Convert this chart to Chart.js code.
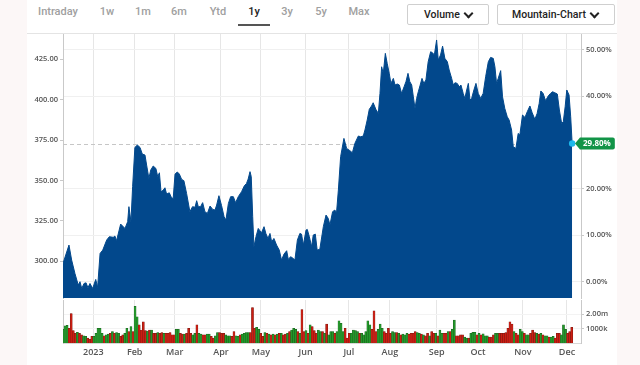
<!DOCTYPE html>
<html>
<head>
<meta charset="utf-8">
<script src="https://cdn.jsdelivr.net/npm/chart.js@4.4.1/dist/chart.umd.min.js"></script>
<style>
html,body{margin:0;padding:0;}
body{width:640px;height:365px;background:#fcf7f7;position:relative;overflow:hidden;font-family:'Open Sans',sans-serif;}
#panel{position:absolute;left:27px;top:0;width:590px;height:365px;background:#fff;}
#topline{position:absolute;left:27px;top:33px;width:590px;height:1px;background:#e4e4e4;}
.tab{position:absolute;top:4px;font-family:Roboto,sans-serif;font-size:11px;font-weight:500;color:#a0a0a0;transform:translateX(-50%);white-space:nowrap;line-height:16px;}
.tab.on{color:#222;}
#uline{position:absolute;left:238px;top:24px;width:32px;height:2px;background:#555;}
.btn{position:absolute;top:4px;height:21px;box-sizing:border-box;border:1px solid #cfcfcf;border-radius:2px;background:#fff;font-family:Roboto,sans-serif;font-size:10.5px;font-weight:500;color:#222;line-height:19px;white-space:nowrap;}
.btn span.t{position:absolute;top:0;}
.chev{position:absolute;top:5px;width:5px;height:5px;border-right:2px solid #222;border-bottom:2px solid #222;transform:rotate(45deg);}
canvas{position:absolute;left:0;top:0;}
</style>
</head>
<body>
<div id="panel"></div>
<div id="topline"></div>
<div class="tab" style="left:58px">Intraday</div>
<div class="tab" style="left:107px">1w</div>
<div class="tab" style="left:143px">1m</div>
<div class="tab" style="left:179px">6m</div>
<div class="tab" style="left:218px">Ytd</div>
<div class="tab on" style="left:254px">1y</div>
<div class="tab" style="left:287px">3y</div>
<div class="tab" style="left:321px">5y</div>
<div class="tab" style="left:359px">Max</div>
<div id="uline"></div>
<div class="btn" style="left:407px;width:82px;"><span class="t" style="left:16px">Volume</span><span class="chev" style="left:57px"></span></div>
<div class="btn" style="left:497px;width:118px;"><span class="t" style="left:14px">Mountain-Chart</span><span class="chev" style="left:93px"></span></div>
<canvas id="price" width="640" height="365"></canvas>
<canvas id="vol" width="640" height="365"></canvas>
<script>
// ---- data ----
const priceX = [0,2.9,4.2,5.8,7.4,8.25,9.1,10.2,11.2,12.1,13.1,14.4,15.9,16.8,18.0,19.3,21.2,22.5,24.4,25.2,26.0,28.0,30.1,31.4,32.0,33.0,33.8,34.9,36.1,37.4,38.5,39.8,40.6,41.7,42.6,43.8,45.1,46.0,46.8,47.6,48.7,49.5,50.3,51.6,52.7,53.5,54.4,55.5,56.5,57.6,58.7,60.0,61.6,62.9,64.1,64.9,65.7,66.8,67.8,68.9,70.1,71.4,72.7,73.8,74.6,75.7,77.0,78.2,79.1,80.3,81.4,82.7,83.8,85.1,86.7,88.0,89.1,89.9,90.8,91.4,92.1,92.7,93.7,94.8,95.6,96.4,97.6,98.5,99.5,100.5,101.3,102.4,103.7,105.0,106.1,107.3,108.6,109.4,110.5,111.8,112.6,113.8,115.0,115.8,116.7,118.0,118.6,119.6,120.7,121.5,122.5,123.4,124.7,126.4,127.7,128.8,129.6,130.9,132.0,132.8,133.7,134.8,136.4,137.7,139.3,140.5,141.7,143.4,144.5,145.8,146.6,147.7,148.7,149.8,150.6,151.9,153.1,153.9,154.7,155.5,156.5,157.4,158.4,159.2,160.4,161.2,162.3,163.3,164.4,165.6,166.5,167.5,168.4,169.3,170.1,170.9,171.7,172.5,173.3,174.3,175.2,176.2,177.3,178.5,179.4,180.3,181.4,182.2,183.3,184.3,185.4,186.6,187.5,188.7,189.5,190.3,191.4,192.4,193.2,194.3,195.1,196.0,196.8,197.6,198.4,199.5,200.5,201.6,202.8,204.0,205.2,206.5,207.6,208.9,209.7,210.5,211.3,212.5,213.4,214.5,215.7,216.6,217.8,218.6,219.9,221.0,221.8,223.1,224.3,225.4,226.7,227.8,229.1,230.2,231.2,232.0,233.1,234.3,235.6,236.7,237.7,238.8,240.0,241.0,242.1,242.9,243.8,244.6,245.7,246.5,247.2];
const priceY = [298.5,309.9,300.6,292.3,285.1,287.2,283.0,286.1,286.5,283.5,286.1,283.0,288.6,283.6,304.7,306.8,313.0,315.1,314.7,315.5,312.6,322.9,320.2,324.4,333.7,324.4,346.1,370.4,371.9,370.4,366.3,365.7,359.5,351.2,356.4,358.9,357.4,352.3,354.7,342.9,344.0,345.4,341.5,342.3,339.2,338.8,353.9,355.2,353.9,350.6,349.8,341.9,330.6,333.7,333.3,337.4,333.7,333.7,336.2,330.6,329.5,334.1,332.0,331.6,334.7,340.5,334.3,327.5,325.4,335.7,339.9,339.9,336.2,339.9,343.0,346.5,348.1,350.8,355.4,352.3,327.5,308.9,315.1,320.2,318.8,317.6,321.3,317.1,314.0,317.1,311.9,314.0,309.9,306.8,300.6,304.3,306.4,301.0,302.7,301.6,300.6,313.0,317.1,316.7,309.9,319.2,319.6,315.1,308.9,316.1,316.7,306.8,307.3,321.3,328.5,326.4,322.3,330.6,331.6,329.9,344.0,364.7,376.0,369.8,368.4,367.1,372.9,377.5,377.0,377.5,381.2,387.4,394.0,396.1,398.1,394.0,391.5,403.9,420.4,416.3,428.7,422.5,416.3,410.1,413.2,409.1,409.7,409.1,403.9,408.0,411.1,416.3,411.1,409.1,401.8,394.6,400.8,404.9,408.5,413.2,410.1,412.2,423.5,429.7,429.1,427.7,437.0,424.6,427.7,433.2,425.6,423.5,418.4,413.2,409.1,410.5,410.1,408.0,409.1,403.9,400.8,406.0,410.1,399.8,400.8,406.0,410.1,403.9,400.8,403.9,414.2,423.5,426.2,425.6,420.4,410.1,413.2,418.0,401.8,394.6,389.4,387.4,381.2,370.9,369.8,379.1,378.1,390.5,389.0,392.5,396.1,391.9,387.8,391.5,397.7,405.4,403.9,399.4,402.3,403.9,404.9,404.3,403.5,393.6,385.3,386.3,395.6,406.0,402.9,389.4,372.8];
const basePrice = 287.21;            // price at 0.00%
const volumes = [
 0.96,1.19,1.23,1.03,2.05,0.87,0.68,0.75,0.68,0.57,0.50,0.46,0.34,0.27,0.46,0.46,0.68,1.03,1.03,0.68,
 0.50,0.57,0.62,0.68,0.80,0.68,0.73,0.68,0.46,0.57,0.68,1.03,0.80,1.14,0.80,2.56,1.83,1.26,0.91,1.48,
 0.87,0.84,0.91,0.91,0.68,0.68,0.73,0.68,0.73,0.68,0.68,0.68,0.73,0.57,0.57,0.96,0.96,0.68,0.62,0.62,
 0.68,1.03,
 0.68,0.57,0.68,1.26,0.68,0.62,0.57,0.57,0.62,0.62,0.46,0.34,0.50,0.73,0.73,0.68,0.68,0.57,0.50,0.50,
 0.46,0.80,0.50,0.46,0.57,0.62,0.68,0.73,0.73,0.73,2.47,1.03,1.10,0.96,0.68,0.46,0.73,0.68,0.62,0.57,
 0.62,0.57,0.62,0.68,0.68,0.57,0.62,0.68,0.80,0.91,1.03,0.96,0.80,0.68,2.33,0.80,0.87,0.68,1.26,1.14,
 0.87,0.68,
 0.91,0.80,0.80,0.68,1.32,0.57,0.80,0.80,0.68,0.80,1.55,1.37,0.80,1.03,0.34,0.68,0.68,0.91,0.87,0.80,
 0.68,0.68,0.57,0.80,1.55,1.26,0.96,2.24,0.80,0.96,1.32,1.03,0.80,0.68,1.03,0.68,0.80,0.73,0.73,0.68,
 0.57,0.62,0.57,0.68,0.62,0.68,0.68,0.80,0.73,0.68,0.62,0.57,0.50,0.68,0.50,0.80,0.68,0.68,0.50,0.91,
 0.68,0.68,
 0.68,0.80,0.80,0.96,1.60,0.50,0.50,0.57,0.57,0.41,0.34,0.34,0.68,0.75,0.75,0.57,0.68,0.57,0.64,0.50,
 0.50,0.41,0.41,0.57,0.68,0.68,0.68,0.68,0.68,0.73,1.03,1.48,1.32,0.80,0.68,0.57,0.96,0.80,0.68,0.57,
 0.57,0.68,0.91,0.73,0.68,0.62,0.68,0.57,0.50,0.50,0.41,0.41,0.46,0.34,0.68,0.68,0.57,1.26,0.96,0.68,
 0.80,1.10];
const volumeDir =
 "GGGRRRRGRRGGRRRGGGGGRGGRGRGGRRGGRGRGGRRRRGRGRRGRRGRRRRRGGRRGRR" +
 "RGGRGGRRGGRRGGRRRGGGRRGGRGGGGRRRGGRRGRGRGRGRGRRGRGGGRGRRGRGRRR" +
 "GGRGRGGGRGGGGRRRGGGGRGGGGGRRRGGGRRRRGGRGRGGGRRRRGGRGRRGRRGRGGR" +
 "RGRGGRRRRGGRGGGRGRGGGRRRGGRRRRRRRGRRGGRGGRRRGRGRGGRGGRRRGGGRRR";
const monthTicks  = [14.7,34.8,54.2,76.7,96.1,117.8,138.8,158.7,181.4,201.5,223.3,244.7];
const monthLabels = ['2023','Feb','Mar','Apr','May','Jun','Jul','Aug','Sep','Oct','Nov','Dec'];
const priceMin = 277.1, priceMax = 440.7;
const priceTicks = [300,325,350,375,400,425];
const pctTicks = [0,10,20,40,50];
const volTicks = [1,2];
const volTickLabels = ['1000k','2.00m'];
const xMin = 0, xMax = 251.5;

// ---- rendering ----
Chart.defaults.font.family = "'Open Sans', sans-serif";
const axisCol = '#c9c9c9';
const labelCol = '#555';
const blue = '#02488c';
const lastIdx = priceX.length - 1;

const lastPricePlugin = {
  id: 'lastPrice',
  beforeDatasetsDraw(chart) {
    const {ctx, chartArea, scales} = chart;
    const lx = scales.x.getPixelForValue(priceX[lastIdx]);
    const ly = Math.round(scales.y.getPixelForValue(priceY[lastIdx])) + 0.5;
    ctx.save();
    ctx.strokeStyle = '#c6c6c6'; ctx.lineWidth = 1; ctx.setLineDash([4, 3]);
    ctx.beginPath(); ctx.moveTo(chartArea.left, ly); ctx.lineTo(lx, ly); ctx.stroke();
    ctx.restore();
  },
  afterDraw(chart) {
    const {ctx, chartArea, scales} = chart;
    const lx = scales.x.getPixelForValue(priceX[lastIdx]);
    const ly = scales.y.getPixelForValue(priceY[lastIdx]);
    ctx.save();
    ctx.fillStyle = '#1cb8ec';
    ctx.beginPath(); ctx.arc(lx, ly, 3.2, 0, Math.PI * 2); ctx.fill();
    const txt = ((priceY[lastIdx] / basePrice - 1) * 100).toFixed(2) + '%';
    ctx.font = "700 8px 'Open Sans'";
    const tw = ctx.measureText(txt).width;
    const bx = chartArea.right - 1, bh = 12, by = ly - bh / 2, bw = tw + 7, r = 2;
    ctx.fillStyle = '#119447';
    ctx.beginPath();
    ctx.moveTo(bx - 5, ly);
    ctx.lineTo(bx, by);
    ctx.lineTo(bx + bw - r, by);
    ctx.quadraticCurveTo(bx + bw, by, bx + bw, by + r);
    ctx.lineTo(bx + bw, by + bh - r);
    ctx.quadraticCurveTo(bx + bw, by + bh, bx + bw - r, by + bh);
    ctx.lineTo(bx, by + bh);
    ctx.closePath(); ctx.fill();
    ctx.fillStyle = '#fff'; ctx.textAlign = 'left'; ctx.textBaseline = 'middle';
    ctx.fillText(txt, bx + 3, ly + 0.5);
    ctx.restore();
  }
};

new Chart(document.getElementById('price'), {
  type: 'line',
  data: { datasets: [{
    data: priceX.map((x, i) => ({x: x, y: priceY[i]})),
    borderColor: blue, backgroundColor: blue, borderWidth: 1,
    pointRadius: 0, fill: 'start', tension: 0, yAxisID: 'y'
  }]},
  options: {
    responsive: false, animation: false, events: [],
    layout: { padding: { left: 0, right: 0, top: 34, bottom: 67 } },
    plugins: { legend: { display: false }, tooltip: { enabled: false } },
    scales: {
      x: {
        type: 'linear', min: xMin, max: xMax,
        afterBuildTicks: s => { s.ticks = monthTicks.map(v => ({value: v})); },
        ticks: { display: false },
        grid: { color: '#e6e6e6', drawTicks: false },
        border: { display: false },
        afterFit: s => { s.height = 0; }
      },
      y: {
        position: 'left', min: priceMin, max: priceMax,
        afterBuildTicks: s => { s.ticks = priceTicks.map(v => ({value: v})); },
        ticks: { callback: v => v.toFixed(2), color: labelCol, font: { size: 7.5, weight: '600' }, padding: 2 },
        grid: { drawOnChartArea: false, tickLength: 3, color: axisCol },
        border: { color: axisCol },
        afterFit: s => { s.width = 63; }
      },
      yp: {
        position: 'right',
        min: (priceMin / basePrice - 1) * 100, max: (priceMax / basePrice - 1) * 100,
        afterBuildTicks: s => { s.ticks = pctTicks.map(v => ({value: v})); },
        ticks: { callback: v => v.toFixed(2) + '%', color: labelCol, font: { size: 7.5, weight: '600' }, padding: 2 },
        grid: { color: '#f0f0f0', tickColor: axisCol, tickLength: 3 },
        border: { color: axisCol },
        afterFit: s => { s.width = 59; }
      }
    }
  },
  plugins: [lastPricePlugin]
});

new Chart(document.getElementById('vol'), {
  type: 'bar',
  data: { datasets: [{
    data: volumes.map((v, i) => ({x: i, y: v})),
    backgroundColor: volumeDir.split('').map(c => c === 'G' ? '#22992a' : '#cc1d12'),
    borderColor: volumeDir.split('').map(c => c === 'G' ? '#1a5e1d' : '#761a12'),
    borderWidth: 0.5, barPercentage: 1, categoryPercentage: 1, yAxisID: 'yv'
  }]},
  options: {
    responsive: false, animation: false, events: [],
    layout: { padding: { left: 0, right: 0, top: 300, bottom: 0 } },
    plugins: { legend: { display: false }, tooltip: { enabled: false } },
    scales: {
      x: {
        type: 'linear', min: xMin, max: xMax, offset: false,
        afterBuildTicks: s => { s.ticks = monthTicks.map(v => ({value: v})); },
        ticks: { callback: (v, i) => monthLabels[i], color: labelCol, font: { size: 9, weight: '600' }, padding: 4, maxRotation: 0, autoSkip: false },
        grid: { color: '#e6e6e6', drawTicks: false, offset: false },
        border: { color: '#d8d8d8' },
        afterFit: s => { s.height = 22; }
      },
      yv: {
        position: 'right', min: 0, max: 3,
        afterBuildTicks: s => { s.ticks = volTicks.map(v => ({value: v})); },
        ticks: { callback: (v, i) => volTickLabels[i], color: labelCol, font: { size: 7.5, weight: '600' }, padding: 2 },
        grid: { color: '#f3f3f3', tickColor: axisCol, tickLength: 3 },
        border: { color: axisCol },
        afterFit: s => { s.width = 59; }
      },
      yl: {
        position: 'left', min: 0, max: 1,
        ticks: { display: false },
        grid: { display: false },
        border: { color: axisCol },
        afterFit: s => { s.width = 63; }
      }
    }
  }
});
</script>
</body>
</html>
